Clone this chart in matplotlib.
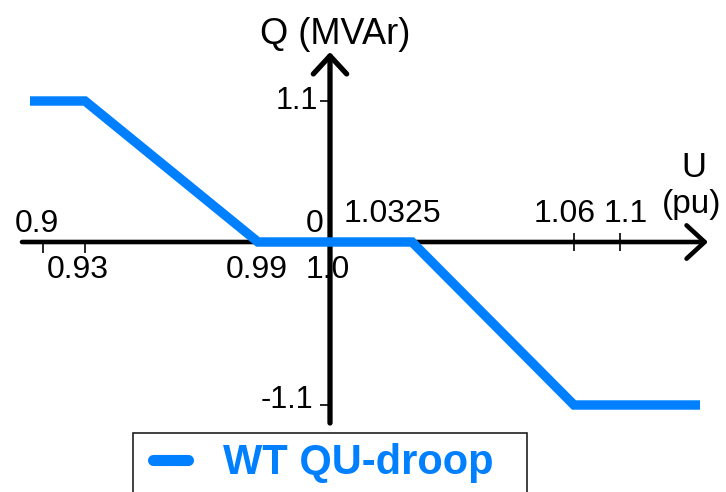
import numpy as np
import matplotlib
matplotlib.use("Agg")
import matplotlib.pyplot as plt
from matplotlib.lines import Line2D
from matplotlib.legend_handler import HandlerLine2D

plt.rcParams['font.family'] = ['Liberation Sans', 'DejaVu Sans']

# ---- data (QU droop characteristic) ----
U_curve = [0.89, 0.93, 0.99, 1.0325, 1.06, 1.14]
Q_curve = [1.1, 1.1, 0.0, 0.0, -1.1, -1.1]
series_label = "WT QU-droop"

# tick labels
x_ticks_above = [(0.9, "0.9"), (1.0, "0"), (1.0325, "1.0325"), (1.06, "1.06"), (1.1, "1.1")]
x_ticks_below = [(0.93, "0.93"), (0.99, "0.99"), (1.0, "1.0")]
y_ticks = [(1.1, "1.1"), (-1.1, "-1.1")]

# schematic (non-linear) scale knots: value -> figure pixel
U_knots = [0.86, 0.88, 0.89, 0.90, 0.93, 0.99, 1.00, 1.0325, 1.06, 1.10, 1.14, 1.15, 1.16]
X_pix   = [0,    22,   30,   43,   85,   258,  330,  412,    574,  620,  700,  708,  726]
Q_knots = [-1.69, -1.23, -1.1, 0.0, 1.1, 1.48, 1.89]
Y_pix   = [0,     69,    87,   250, 391, 440,  492]   # measured from bottom

def fx(u):
    return np.interp(np.asarray(u, dtype=float), U_knots, X_pix)
def fx_inv(p):
    return np.interp(np.asarray(p, dtype=float), X_pix, U_knots)
def fy(q):
    return np.interp(np.asarray(q, dtype=float), Q_knots, Y_pix)
def fy_inv(p):
    return np.interp(np.asarray(p, dtype=float), Y_pix, Q_knots)

BLUE = '#0080ff'

fig = plt.figure(figsize=(7.26, 4.92), dpi=100)
ax = fig.add_axes([0, 0, 1, 1])
ax.set_xscale('function', functions=(fx, fx_inv))
ax.set_yscale('function', functions=(fy, fy_inv))
ax.set_xlim(U_knots[0], U_knots[-1])
ax.set_ylim(Q_knots[0], Q_knots[-1])
ax.axis('off')

# axes arrows
ax.annotate('', xy=(1.15, 0), xytext=(0.88, 0),
            arrowprops=dict(arrowstyle='->,head_length=0.65,head_width=0.6',
                            lw=3.3, color='black', mutation_scale=20,
                            shrinkA=0, shrinkB=0))
ax.annotate('', xy=(1.0, 1.48), xytext=(1.0, -1.23),
            arrowprops=dict(arrowstyle='->,head_length=0.65,head_width=0.6',
                            lw=3.8, color='black', mutation_scale=20,
                            shrinkA=0, shrinkB=0))

# tick marks
ax.plot([0.9, 0.93], [0, 0], linestyle='none', marker=3, markersize=8,
        markeredgewidth=1.2, color='black')
ax.plot([1.06, 1.1], [0, 0], linestyle='none', marker='|', markersize=13,
        markeredgewidth=1.2, color='black')
ax.plot([1.0, 1.0], [1.1, -1.1], linestyle='none', marker=0, markersize=7,
        markeredgewidth=1.2, color='black')

# curve
ax.plot(U_curve, Q_curve, color=BLUE, lw=6.8, solid_capstyle='butt',
        solid_joinstyle='miter', zorder=5)

TS = 23
# labels above x axis
offs_above = {"0.9": (-6, 10), "0": (-15, 10), "1.0325": (-20, 20),
              "1.06": (-9, 20), "1.1": (6, 20)}
for u, t in x_ticks_above:
    dx, dy = offs_above[t]
    ax.annotate(t, xy=(u, 0), xytext=(dx, dy), textcoords='offset pixels',
                ha='center', va='baseline', fontsize=TS)
offs_below = {"0.93": (-7, -36), "0.99": (-1, -36), "1.0": (-2, -36)}
for u, t in x_ticks_below:
    dx, dy = offs_below[t]
    ax.annotate(t, xy=(u, 0), xytext=(dx, dy), textcoords='offset pixels',
                ha='center', va='baseline', fontsize=TS)
offs_y = {"1.1": (-12, -8), "-1.1": (-17, -3)}
for q, t in y_ticks:
    dx, dy = offs_y[t]
    ax.annotate(t, xy=(1.0, q), xytext=(dx, dy), textcoords='offset pixels',
                ha='right', va='baseline', fontsize=TS - 1)

# axis titles
ax.annotate("U", xy=(1.15, 0), xytext=(-14, 65), textcoords='offset pixels',
            ha='center', va='baseline', fontsize=25)
ax.annotate("(pu)", xy=(1.15, 0), xytext=(-16, 29), textcoords='offset pixels',
            ha='center', va='baseline', fontsize=24)
ax.annotate("Q (MVAr)", xy=(1.0, 1.48), xytext=(5, 8), textcoords='offset pixels',
            ha='center', va='baseline', fontsize=26)

# legend
proxy = Line2D([], [], color=BLUE, lw=8, solid_capstyle='round', label=series_label)
leg = ax.legend(handles=[proxy], loc='upper left',
                bbox_to_anchor=(133 / 726, 1 - 433 / 492 - 0.3, 394 / 726, 0.3),
                bbox_transform=fig.transFigure, mode='expand', borderaxespad=0,
                borderpad=0.25, handlelength=1.28, handletextpad=0.62,
                handler_map={Line2D: HandlerLine2D(numpoints=2, marker_pad=0.22)},
                prop={'weight': 'bold', 'size': 30}, labelcolor=BLUE,
                fancybox=False, framealpha=1, edgecolor='#202020')
leg.get_frame().set_linewidth(1.2)

fig.savefig('out.png', dpi=100)
